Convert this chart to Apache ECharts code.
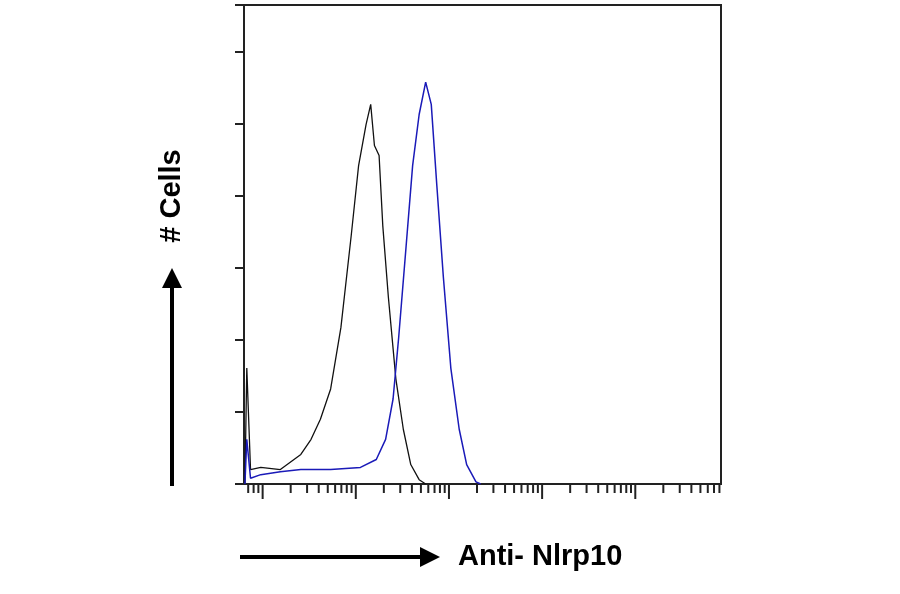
<!DOCTYPE html>
<html>
<head>
<meta charset="UTF-8">
<script src="https://cdn.jsdelivr.net/npm/echarts@6/dist/echarts.min.js"></script>
<style>body,html{margin:0;padding:0;width:100%;height:100%;background:#fff}#c{width:900px;height:594px}</style>
</head>
<body>
<div id="c"></div>
<script>
// x in log10 units of fluorescence, y = cell count
var isoX = [0.81, 0.83, 0.87, 0.98, 1.19, 1.41, 1.52, 1.62, 1.73, 1.84, 1.95, 2.03, 2.11, 2.16, 2.20, 2.25, 2.29, 2.35, 2.43, 2.51, 2.59, 2.68, 2.75];
var isoY = [0, 161, 20, 23, 20, 41, 62, 90, 132, 217, 344, 442, 499, 527, 470, 456, 358, 259, 146, 76, 27, 6, 0];
var abX = [0.81, 0.83, 0.87, 0.98, 1.19, 1.41, 1.73, 2.05, 2.22, 2.32, 2.40, 2.46, 2.54, 2.61, 2.68, 2.75, 2.81, 2.87, 2.94, 3.02, 3.11, 3.19, 3.29, 3.34];
var abY = [0, 62, 8, 13, 17, 20, 20, 23, 34, 62, 118, 203, 330, 442, 513, 558, 527, 414, 287, 161, 76, 27, 3, 0];
var decades = [0, 1, 2, 3, 4, 5];
var mults = [1, 2, 3, 4, 5, 6, 7, 8, 9];

function pairs(xs, ys) { return xs.map(function (x, i) { return [x, ys[i]]; }); }

var xMin = 0.8, xMax = 5.92;
var ticks = [];
decades.forEach(function (d) {
  mults.forEach(function (m) {
    var v = d + Math.log10(m);
    if (v >= xMin && v <= xMax + 0.001) ticks.push([v, m === 1 ? 1 : 0]);
  });
});

var chart = echarts.init(document.getElementById('c'));
chart.setOption({
  animation: false,
  grid: { left: 244, top: 5, width: 477, height: 479, show: true, borderColor: '#222', borderWidth: 2 },
  xAxis: { type: 'value', min: xMin, max: xMax, axisLine: { show: false }, axisTick: { show: false }, axisLabel: { show: false }, splitLine: { show: false } },
  yAxis: { type: 'value', min: 0, max: 665, interval: 100, axisLine: { show: false },
    axisTick: { show: true, length: 9, lineStyle: { color: '#222', width: 2 } }, axisLabel: { show: false }, splitLine: { show: false } },
  series: [
    { type: 'line', data: pairs(isoX, isoY), symbol: 'none', lineStyle: { color: '#111', width: 1.3 } },
    { type: 'line', data: pairs(abX, abY), symbol: 'none', lineStyle: { color: '#1a1ab8', width: 1.5 } },
    { type: 'custom', data: ticks, clip: false, silent: true,
      renderItem: function (params, api) {
        var p = api.coord([api.value(0), 0]);
        var len = api.value(1) ? 15 : 9;
        return { type: 'line', shape: { x1: p[0], y1: p[1], x2: p[0], y2: p[1] + len }, style: { stroke: '#222', lineWidth: 2 } };
      } }
  ],
  graphic: [
    { type: 'line', shape: { x1: 172, y1: 486, x2: 172, y2: 285 }, style: { stroke: '#000', lineWidth: 4 } },
    { type: 'polygon', shape: { points: [[162, 288], [182, 288], [172, 268]] }, style: { fill: '#000' } },
    { type: 'line', shape: { x1: 240, y1: 557, x2: 422, y2: 557 }, style: { stroke: '#000', lineWidth: 4 } },
    { type: 'polygon', shape: { points: [[420, 547], [420, 567], [440, 557]] }, style: { fill: '#000' } },
    { type: 'text', x: 172, y: 196, rotation: Math.PI / 2, style: { text: '# Cells', fill: '#000', font: 'bold 29px "Liberation Sans", sans-serif', align: 'center', verticalAlign: 'middle' } },
    { type: 'text', x: 458, y: 557, style: { text: 'Anti- Nlrp10', fill: '#000', font: 'bold 29px "Liberation Sans", sans-serif', align: 'left', verticalAlign: 'middle' } }
  ]
});
</script>
</body>
</html>
